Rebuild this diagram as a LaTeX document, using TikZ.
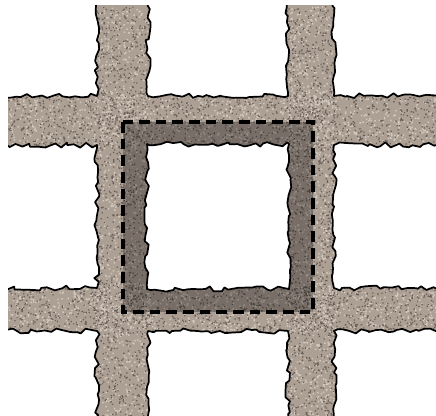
\documentclass[tikz,border=0pt]{standalone}
\usepackage{tikz}
\usetikzlibrary{decorations.pathmorphing}
\definecolor{gravel}{RGB}{172,159,148}
\definecolor{gravellight}{RGB}{210,200,190}
\definecolor{graveldark}{RGB}{106,95,88}

\begin{document}
\begin{tikzpicture}[
  x=0.75pt, y=-0.75pt,
  rough/.style={decorate, decoration={random steps, segment length=4pt, amplitude=2pt}},
  gridpath/.style={insert path={(97,-10) -- (97,96) -- (-10,96) -- (-10,145) -- (97,145) -- (97,288)
    -- (-10,288) -- (-10,331) -- (97,331) -- (97,430) -- (148,430) -- (148,331) -- (288,331)
    -- (288,430) -- (334,430) -- (334,331) -- (450,331) -- (450,288) -- (334,288) -- (334,145)
    -- (450,145) -- (450,96) -- (334,96) -- (334,-10) -- (288,-10) -- (288,96) -- (148,96)
    -- (148,-10) -- cycle}},
  holepath/.style={insert path={(147,144) -- (289,144) -- (289,289) -- (147,289) -- cycle}},
  edge/.style={draw=black, line width=1.3pt, line join=round},
  frame/.style={draw=black, line width=2.6pt, dash pattern=on 8pt off 4.5pt},
]
\useasboundingbox (0,0) rectangle (436,416);
\begin{scope}
  \clip (8,6) rectangle (436,416);
  % gravel bands with speckles
  \pgfmathsetseed{11}
  \fill[gravel, rough, gridpath];
  \begin{scope}
    \pgfmathsetseed{11}
    \path[clip, rough, gridpath];
    \pgfmathsetseed{5}
    \foreach \bx/\by/\bw/\bh in {94/6/57/410, 285/6/52/410, 8/93/428/55, 8/285/428/49} {
      \fill[gravellight] \foreach \i in {1,...,1100} { (\bx+rnd*\bw, \by+rnd*\bh) rectangle +(1.5,1.5) };
      \fill[graveldark] \foreach \i in {1,...,1100} { (\bx+rnd*\bw, \by+rnd*\bh) rectangle +(1.3,1.3) };
    }
  \end{scope}
  \pgfmathsetseed{11}
  \draw[edge, rough, gridpath];
  % darker ring inside the frame
  \coordinate (sqA) at (123,122);
  \coordinate (sqB) at (313,312);
  \fill[black, opacity=0.3] (sqA) rectangle (sqB);
  % hole
  \pgfmathsetseed{23}
  \fill[white, rough, holepath];
  \pgfmathsetseed{23}
  \draw[edge, rough, holepath];
  \draw[frame] (sqA) rectangle (sqB);
\end{scope}
\end{tikzpicture}
\end{document}
